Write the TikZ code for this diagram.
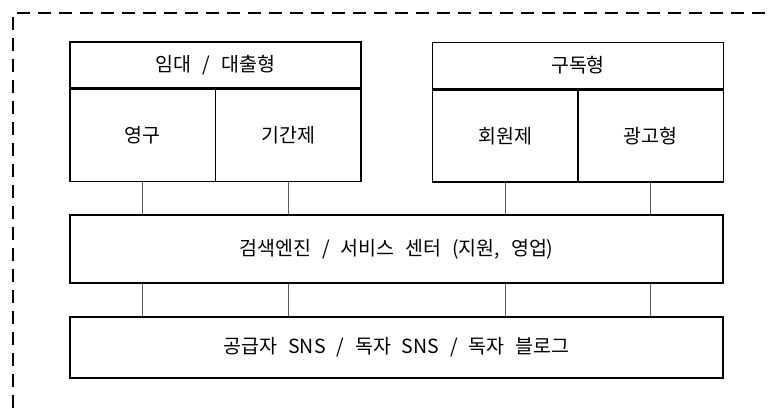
\documentclass[tikz,border=0pt]{standalone}
\usepackage{fontspec}
\setmainfont[WordSpace=2.5]{Noto Sans CJK KR}
\usepackage{tikz}
\usetikzlibrary{positioning}
\tikzstyle{block} = [rectangle, draw, fill=white, text centered, inner sep=0pt, line width=1.6pt]
\tikzstyle{head} = [block, minimum width=291pt, minimum height=46pt]
\tikzstyle{cell} = [block, minimum width=145.5pt, minimum height=92pt]
\tikzstyle{wide} = [block, minimum width=653pt]
\tikzstyle{line} = [draw, gray!70!black, line width=0.8pt]
\tikzstyle{frame} = [draw, line width=1.5pt, dash pattern=on 13pt off 8pt]

\begin{document}
\begin{tikzpicture}[x=1pt, y=-1pt, font=\fontsize{19.5}{22}\selectfont]
\useasboundingbox (0,0) rectangle (771,408);
% Outer frame
	\draw [frame] (13,408) -- (13,13) -- (771,13);

% Place nodes
	\node [head] 					 (rent) at (215.5,65) {임대 / 대출형};
	\node [cell, below=0pt of rent.south west, anchor=north west] (perm) {영구};
	\node [cell, below=0pt of rent.south east, anchor=north east] (term) {기간제};
	\node [head] 					 (sub) at (578,65.5) {구독형};
	\node [cell, below=0pt of sub.south west, anchor=north west] (member) {회원제};
	\node [cell, below=0pt of sub.south east, anchor=north east] (ads) {광고형};
	\node [wide, minimum height=68pt] (search) at (396.5,249) {검색엔진 / 서비스 센터 (지원, 영업)};
	\node [wide, minimum height=61pt] (sns) at (396.5,347.5) {공급자 SNS / 독자 SNS / 독자 블로그};

% Draw edges
	\foreach \cl in {perm, term, member, ads} {
		\path [line] (\cl.south) -- (\cl.south |- search.north);
		\path [line] (search.south -| \cl.south) -- (sns.north -| \cl.south);
	}

\end{tikzpicture}
\end{document}
